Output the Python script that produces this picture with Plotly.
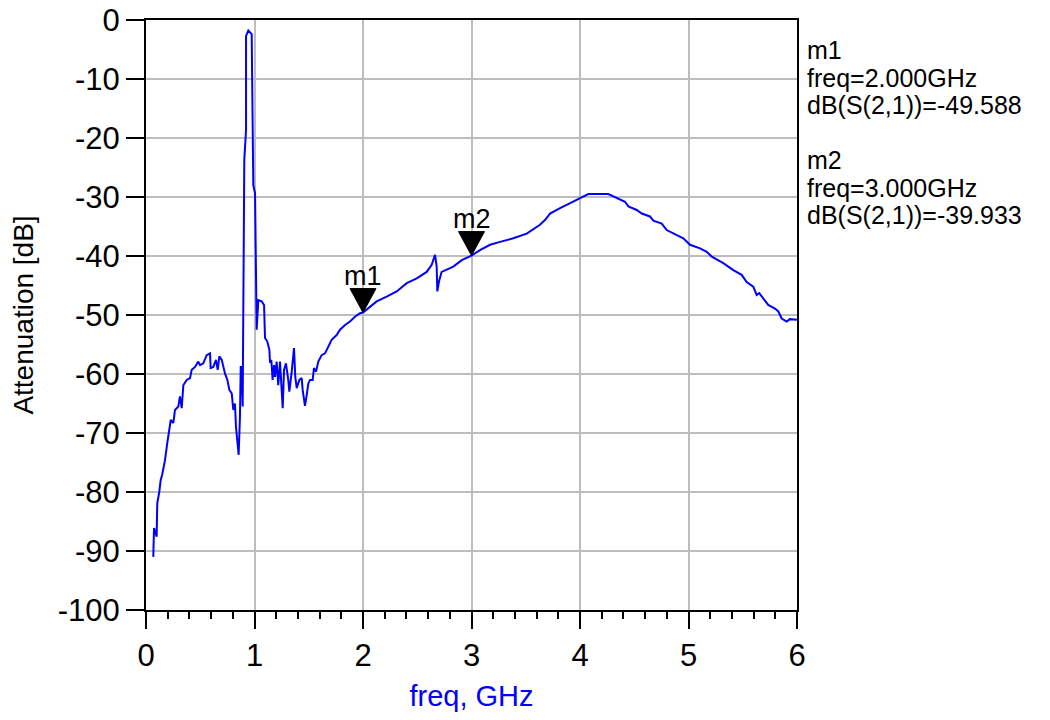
"""Recreate the S21 attenuation plot with two markers."""

import plotly.graph_objects as go

FONT = "Liberation Sans, Arial, sans-serif"

freq_ghz = [
    0.067, 0.074, 0.098, 0.104, 0.123, 0.135, 0.150, 0.175, 0.196, 0.215,
    0.228, 0.252, 0.267, 0.298, 0.313, 0.329, 0.344, 0.375, 0.406, 0.421,
    0.452, 0.482, 0.498, 0.528, 0.544, 0.559, 0.590, 0.596, 0.620, 0.645,
    0.661, 0.676, 0.698, 0.728, 0.750, 0.768, 0.790, 0.805, 0.820, 0.829,
    0.854, 0.866, 0.873, 0.882, 0.891, 0.897, 0.906, 0.922, 0.922, 0.943,
    0.974, 0.989, 1.005, 1.020, 1.035, 1.066, 1.088, 1.097, 1.118, 1.137,
    1.143, 1.155, 1.167, 1.180, 1.189, 1.204, 1.219, 1.235, 1.260, 1.272,
    1.290, 1.311, 1.321, 1.343, 1.364, 1.376, 1.389, 1.413, 1.435, 1.444,
    1.465, 1.481, 1.496, 1.511, 1.536, 1.548, 1.567, 1.588, 1.619, 1.650,
    1.680, 1.711, 1.757, 1.788, 1.834, 1.880, 1.926, 1.972, 2.000, 2.126,
    2.218, 2.310, 2.403, 2.495, 2.587, 2.633, 2.664, 2.679, 2.685, 2.703,
    2.725, 2.771, 2.832, 2.910, 3.000, 3.078, 3.171, 3.263, 3.385, 3.509,
    3.631, 3.677, 3.724, 3.816, 3.877, 3.938, 4.000, 4.077, 4.261, 4.338,
    4.415, 4.446, 4.523, 4.569, 4.645, 4.676, 4.753, 4.799, 4.876, 4.952,
    5.014, 5.106, 5.168, 5.214, 5.321, 5.413, 5.490, 5.536, 5.597, 5.628,
    5.652, 5.689, 5.735, 5.797, 5.828, 5.859, 5.905, 5.935, 6.000,
]

s21_db = [
    -91.0, -86.1, -87.6, -81.9, -79.9, -78.0, -77.0, -74.6, -71.7, -69.8,
    -67.8, -68.3, -66.1, -65.5, -63.8, -65.8, -61.9, -61.0, -60.7, -59.3,
    -58.8, -57.9, -58.5, -58.2, -57.6, -56.8, -56.5, -59.0, -58.8, -57.6,
    -59.3, -57.0, -57.6, -59.9, -61.0, -62.7, -63.3, -66.1, -65.0, -68.9,
    -73.7, -67.2, -58.8, -58.8, -65.5, -47.5, -23.7, -18.6, -2.7, -1.8,
    -2.4, -28.0, -29.4, -52.5, -47.5, -47.7, -48.3, -53.9, -54.5, -55.9,
    -58.1, -57.6, -61.0, -58.5, -60.5, -57.9, -61.9, -57.9, -65.8, -59.3,
    -58.2, -61.0, -63.0, -59.6, -55.6, -60.5, -62.4, -61.0, -60.7, -62.7,
    -65.4, -63.6, -61.6, -61.0, -61.0, -59.0, -59.6, -57.9, -56.8, -56.5,
    -55.4, -54.2, -53.4, -52.5, -51.7, -51.1, -50.3, -49.7, -49.588, -47.7,
    -46.9, -46.0, -44.6, -43.8, -42.7, -41.5, -39.8, -41.8, -46.0, -44.1,
    -42.7, -42.3, -41.8, -40.7, -39.933, -39.0, -38.1, -37.6, -37.0, -36.2,
    -34.7, -33.9, -32.8, -31.9, -31.4, -30.8, -30.2, -29.5, -29.5, -30.1,
    -30.8, -31.6, -32.2, -32.8, -33.3, -34.0, -34.5, -35.6, -36.3, -37.0,
    -38.1, -38.7, -39.3, -40.1, -41.2, -42.4, -43.2, -44.4, -45.2, -46.6,
    -46.3, -47.2, -48.3, -48.9, -49.4, -50.6, -51.1, -50.7, -50.8,
]

marker_names = ["m1", "m2"]
marker_freq = [2.0, 3.0]
marker_db = [-49.588, -39.933]

y_tick_vals = [0, -10, -20, -30, -40, -50, -60, -70, -80, -90, -100]
y_tick_text = ["0", "-10", "-20", "-30", "-40", "-50", "-60", "-70", "-80", "-90", "-100"]

# the page body adds an 8px offset, so the figure is 1034x704 and the
# plot box is placed to land on the reference pixels
FIG_W, FIG_H = 1034, 704
OFFSET = 8
PLOT_LEFT, PLOT_RIGHT = 146 - OFFSET, 797 - OFFSET
PLOT_TOP, PLOT_BOTTOM = 20 - OFFSET, 610 - OFFSET


def paper_y(page_y: float) -> float:
    """Convert a page pixel row to paper coordinates."""
    return (PLOT_BOTTOM - (page_y - OFFSET)) / (PLOT_BOTTOM - PLOT_TOP)


def paper_x(page_x: float) -> float:
    """Convert a page pixel column to paper coordinates."""
    return ((page_x - OFFSET) - PLOT_LEFT) / (PLOT_RIGHT - PLOT_LEFT)


fig = go.Figure()
fig.add_trace(
    go.Scatter(
        x=freq_ghz,
        y=s21_db,
        mode="lines",
        line={"color": "#0000ff", "width": 2},
        hoverinfo="x+y",
        showlegend=False,
    )
)

for name, fx, fy in zip(marker_names, marker_freq, marker_db):
    # triangle with its tip on the data point
    fig.add_shape(
        type="path",
        xref="x",
        yref="y",
        xsizemode="pixel",
        ysizemode="pixel",
        xanchor=fx,
        yanchor=fy,
        path="M-13,24 L13,24 L0,0 Z",
        fillcolor="black",
        line={"color": "black", "width": 1},
    )
    fig.add_annotation(
        x=fx,
        y=fy,
        text=name,
        showarrow=False,
        yanchor="middle",
        yshift=37,
        font={"size": 27, "color": "black", "family": FONT},
    )

# readout block on the right
readout_rows = []
for idx, (name, fx, fy) in enumerate(zip(marker_names, marker_freq, marker_db)):
    top = 50 + idx * 110
    readout_rows += [
        (name, top),
        (f"freq={fx:.3f}GHz", top + 28),
        (f"dB(S(2,1))={fy:.3f}", top + 55),
    ]

for text, py in readout_rows:
    fig.add_annotation(
        xref="paper",
        yref="paper",
        x=paper_x(805),
        y=paper_y(py),
        xanchor="left",
        yanchor="middle",
        text=text,
        showarrow=False,
        font={"size": 25, "color": "black", "family": FONT},
    )

fig.update_layout(
    width=FIG_W,
    height=FIG_H,
    paper_bgcolor="white",
    plot_bgcolor="white",
    font={"family": FONT, "color": "black", "size": 28},
    margin={"l": PLOT_LEFT, "r": FIG_W - PLOT_RIGHT, "t": PLOT_TOP,
            "b": FIG_H - PLOT_BOTTOM, "autoexpand": False},
    showlegend=False,
)

fig.update_xaxes(
    range=[0, 6],
    dtick=1,
    tick0=0,
    automargin=False,
    showgrid=True,
    gridcolor="#bdbdbd",
    gridwidth=2,
    showline=True,
    linecolor="black",
    linewidth=2,
    mirror=True,
    ticks="outside",
    ticklen=17,
    tickwidth=2,
    tickcolor="black",
    tickfont={"size": 31},
    minor={"dtick": 0.2, "ticks": "outside", "ticklen": 7, "tickcolor": "black",
           "tickwidth": 2, "showgrid": False},
    zeroline=False,
    title={"text": "freq, GHz", "font": {"color": "#0000ff", "size": 29},
           "standoff": 18},
)

fig.update_yaxes(
    range=[-100, 0],
    tickmode="array",
    tickvals=y_tick_vals,
    ticktext=y_tick_text,
    ticklabeloverflow="allow",
    automargin=False,
    showgrid=True,
    gridcolor="#bdbdbd",
    gridwidth=2,
    showline=True,
    linecolor="black",
    linewidth=2,
    mirror=True,
    ticks="outside",
    ticklen=18,
    tickwidth=2,
    tickcolor="black",
    tickfont={"size": 31},
    zeroline=False,
    title={"text": "Attenuation [dB]", "font": {"size": 28}, "standoff": 16},
)

fig.write_html("out.html")
